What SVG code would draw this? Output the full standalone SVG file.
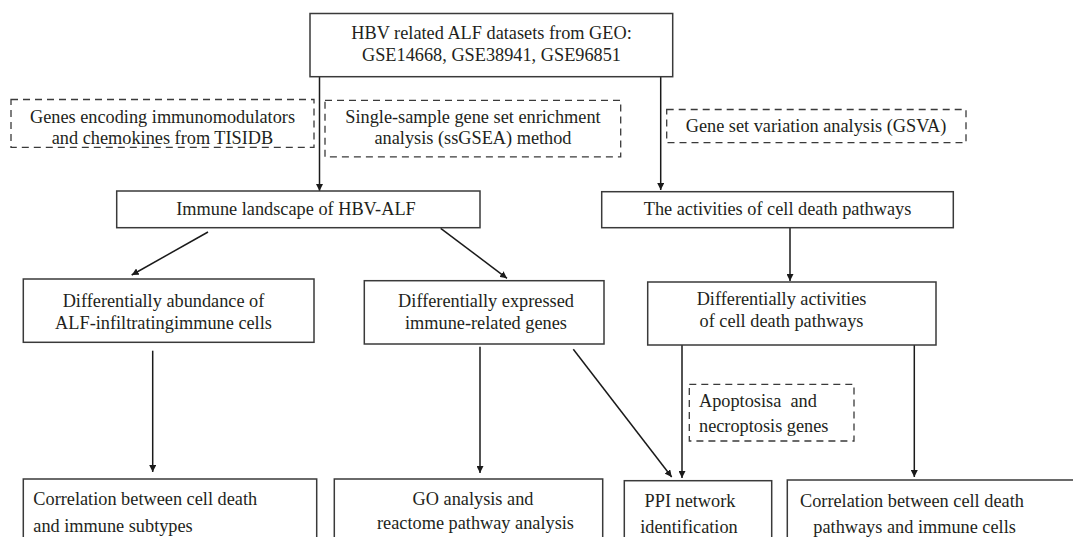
<svg xmlns="http://www.w3.org/2000/svg" width="1073" height="537" viewBox="0 0 1073 537" font-family="'Liberation Serif', Tinos, 'Times New Roman', Times, serif">
<style>
  text { font-family: "Liberation Serif", Tinos, "Times New Roman", Times, serif; font-size: 18.3px; fill: #231f20; }
  .c { text-anchor: middle; }
  .box { fill: #ffffff; stroke: #3a3a3a; stroke-width: 1.5; }
  .dash { fill: #ffffff; stroke: #3a3a3a; stroke-width: 1.3; stroke-dasharray: 7 5; }
  .conn { stroke: #1a1a1a; stroke-width: 1.5; fill: none; marker-end: url(#arr); }
</style>
<defs>
  <marker id="arr" markerUnits="userSpaceOnUse" markerWidth="8" markerHeight="7" refX="7" refY="3.5" orient="auto">
    <path d="M0,0 L7,3.5 L0,7 z" fill="#1a1a1a"/>
  </marker>
</defs>
<rect width="1073" height="537" fill="#ffffff"/>

<g id="connectors">
  <line class="conn" x1="319.5" y1="77" x2="319.5" y2="191"/>
  <line class="conn" x1="660.7" y1="77" x2="660.7" y2="190"/>
  <line class="conn" x1="208" y1="232" x2="131.7" y2="275"/>
  <line class="conn" x1="440.7" y1="228.3" x2="507" y2="278.3"/>
  <line class="conn" x1="790" y1="228" x2="790" y2="281"/>
  <line class="conn" x1="152.7" y1="350.7" x2="152.7" y2="472"/>
  <line class="conn" x1="480" y1="346.7" x2="480" y2="473"/>
  <line class="conn" x1="573.3" y1="349.3" x2="671.7" y2="477"/>
  <line class="conn" x1="682" y1="337.3" x2="682" y2="478"/>
  <line class="conn" x1="914.3" y1="345" x2="914.3" y2="477"/>
</g>

<g id="geo">
  <rect class="box" x="310" y="13.5" width="362.7" height="63.2"/>
  <text class="c" x="491.5" y="39">HBV related ALF datasets from GEO:</text>
  <text class="c" x="491.5" y="61">GSE14668, GSE38941, GSE96851</text>
</g>

<g id="tisidb">
  <rect class="dash" x="11" y="99.5" width="303" height="47.8"/>
  <text class="c" x="162.5" y="122.5">Genes encoding immunomodulators</text>
  <text class="c" x="162.5" y="144">and chemokines from TISIDB</text>
</g>

<g id="ssgsea">
  <rect class="dash" x="325" y="100.3" width="295.7" height="56.5"/>
  <text class="c" x="473" y="122.5">Single-sample gene set enrichment</text>
  <text class="c" x="473" y="144">analysis (ssGSEA) method</text>
</g>

<g id="gsva">
  <rect class="dash" x="666.7" y="109.5" width="299.3" height="33.2"/>
  <text class="c" x="816" y="131.7">Gene set variation analysis (GSVA)</text>
</g>

<g id="immune">
  <rect class="box" x="116.7" y="191" width="363.3" height="36.7"/>
  <text class="c" x="296" y="215">Immune landscape of HBV-ALF</text>
</g>

<g id="activities">
  <rect class="box" x="601.7" y="191.7" width="351.6" height="36"/>
  <text class="c" x="777.5" y="215">The activities of cell death pathways</text>
</g>

<g id="abundance">
  <rect class="box" x="23.3" y="279" width="290.7" height="63.3"/>
  <text class="c" x="163.5" y="306.7">Differentially abundance of</text>
  <text class="c" x="163.5" y="329">ALF-infiltratingimmune cells</text>
</g>

<g id="expressed">
  <rect class="box" x="364.3" y="280.7" width="239.7" height="63.3"/>
  <text class="c" x="486" y="306.7">Differentially expressed</text>
  <text class="c" x="486" y="329">immune-related genes</text>
</g>

<g id="diffactivities">
  <rect class="box" x="647.7" y="282" width="288.3" height="63"/>
  <text class="c" x="781.5" y="305">Differentially activities</text>
  <text class="c" x="781.5" y="327">of cell death pathways</text>
</g>

<g id="apoptosis">
  <rect class="dash" x="689.3" y="384.3" width="164.7" height="56.7"/>
  <text x="699" y="407.3" xml:space="preserve">Apoptosisa  and</text>
  <text x="699" y="431.7">necroptosis genes</text>
</g>

<g id="corr-subtypes">
  <rect class="box" x="23.3" y="479" width="293.4" height="80"/>
  <text x="33.3" y="505">Correlation between cell death</text>
  <text x="33.3" y="531.7">and immune subtypes</text>
</g>

<g id="go">
  <rect class="box" x="334.3" y="479" width="268.4" height="80"/>
  <text class="c" x="473" y="505">GO analysis and</text>
  <text class="c" x="475.5" y="528.5">reactome pathway analysis</text>
</g>

<g id="ppi">
  <rect class="box" x="624.3" y="480.7" width="147.4" height="80"/>
  <text class="c" x="690" y="506.7">PPI network</text>
  <text class="c" x="689" y="533">identification</text>
</g>

<g id="corr-cells">
  <rect class="box" x="787.3" y="480" width="300" height="80"/>
  <text x="800" y="506.7">Correlation between cell death</text>
  <text x="813.3" y="533">pathways and immune cells</text>
</g>
</svg>
